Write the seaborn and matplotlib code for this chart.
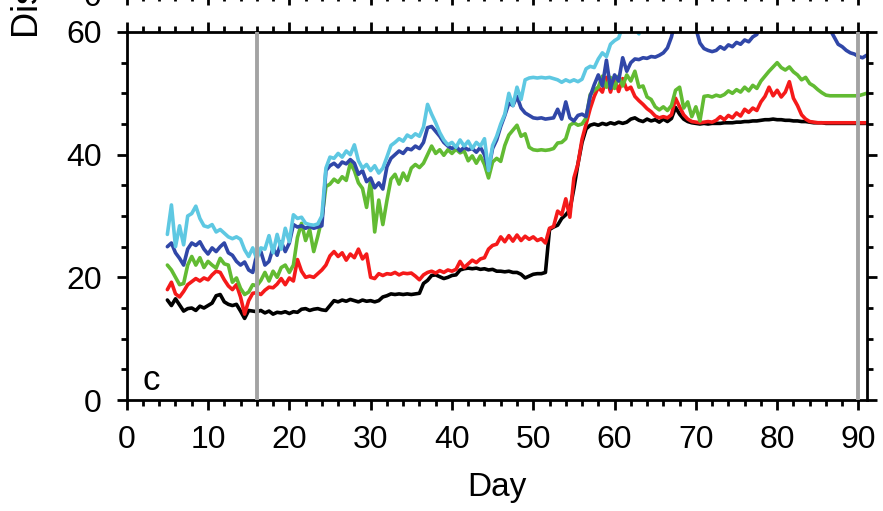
import numpy as np
import pandas as pd
import matplotlib
matplotlib.use("Agg")
import matplotlib.pyplot as plt
from matplotlib.ticker import MultipleLocator
import seaborn as sns

nan = np.nan

# Half-daily samples starting at day 5
black = [
    16.3, 15.4, 16.5, 15.5, 14.5, 14.9, 15.0, 14.6, 15.3, 15.0,
    15.4, 15.8, 17.0, 17.2, 16.0, 15.6, 15.4, 15.6, 14.5, 13.3,
    14.6, 14.5, 14.4, 14.6, 14.2, 14.5, 14.0, 14.3, 14.2, 14.4,
    14.1, 14.4, 14.3, 14.8, 14.9, 14.6, 14.8, 14.9, 14.7, 14.6,
    15.4, 16.2, 16.0, 16.3, 16.1, 16.4, 16.2, 16.0, 16.3, 16.1,
    16.2, 16.0, 16.2, 16.8, 17.0, 17.3, 17.2, 17.3, 17.2, 17.3,
    17.2, 17.3, 17.4, 19.0, 19.5, 20.3, 20.4, 20.1, 19.8, 20.0,
    20.3, 20.4, 21.2, 21.4, 21.5, 21.4, 21.5, 21.3, 21.4, 21.2,
    21.3, 21.0, 21.0, 20.9, 21.0, 20.8, 20.8, 20.5, 19.9, 20.2,
    20.5, 20.6, 20.6, 20.8, 27.8, 28.2, 28.5, 29.6, 30.2, 31.0,
    34.5, 38.5, 42.0, 44.2, 44.8, 45.0, 44.8, 45.1, 44.9, 45.2,
    45.0, 45.3, 45.1, 45.3, 45.8, 46.0, 45.6, 45.4, 45.8, 45.5,
    45.7, 45.3, 45.8, 45.4, 45.9, 47.7, 46.6, 45.8, 45.4, 45.2,
    45.1, 45.0, 45.1, 45.0, 45.1, 45.1, 45.1, 45.2, 45.2, 45.2,
    45.3, 45.3, 45.4, 45.4, 45.5, 45.5, 45.6, 45.7, 45.7, 45.8,
    45.7, 45.7, 45.6, 45.6, 45.5, 45.5, 45.4, 45.4, 45.3, 45.2,
    45.2, 45.2, 45.1, 45.1, 45.1, 45.1, 45.1, 45.1, 45.1, 45.1,
    45.1, 45.1, 45.1,
]
red = [
    18.0, 19.2, 17.3, 16.8, 17.7, 18.8, 19.3, 19.8, 19.4, 19.9,
    19.6, 20.4, 21.0, 20.8, 19.6, 18.6, 18.0, 18.8, 16.8, 14.0,
    16.2, 17.4, 17.5, 17.2, 17.9, 18.4, 18.3, 18.9, 19.8, 18.8,
    19.9, 19.4, 22.9, 21.0, 20.0, 20.2, 20.0, 20.6, 21.2, 22.0,
    23.5, 24.2, 23.4, 24.0, 22.8, 23.8, 23.2, 24.6, 23.0, 23.8,
    20.0, 19.8, 20.6, 20.3, 20.6, 20.5, 20.8, 20.4, 20.7, 20.6,
    20.7, 20.2, 19.6, 20.4, 20.8, 21.0, 20.7, 21.1, 20.8, 21.2,
    21.0, 21.3, 22.6, 21.6, 22.2, 22.8, 22.4, 23.0, 23.2, 24.6,
    25.2, 25.4, 26.6, 25.8, 26.8, 25.9, 26.9, 26.0, 26.7, 26.2,
    26.6, 26.0, 26.3, 25.6, 28.0, 28.3, 30.8, 30.2, 32.8, 29.8,
    36.2, 38.5, 42.5, 45.0, 47.5, 49.5, 51.0, 50.2, 52.6, 50.2,
    52.5, 50.3, 52.4, 50.6, 51.0, 49.5, 48.8, 48.2, 47.5, 47.0,
    46.3, 46.0, 46.2, 46.0, 46.5, 49.2, 47.8, 46.5, 45.8, 45.4,
    45.3, 45.2, 45.3, 45.4, 45.3, 45.6, 46.2, 45.7, 46.4, 46.0,
    46.8, 46.3, 47.4, 46.9, 47.6, 47.2, 48.6, 49.5, 51.0, 49.6,
    50.5, 49.4, 50.2, 51.9, 49.2, 48.0, 46.5, 45.8, 45.4, 45.3,
    45.2, 45.2, 45.2, 45.2, 45.2, 45.2, 45.2, 45.2, 45.2, 45.2,
    45.2, 45.2, 45.2,
]
green = [
    22.0, 21.2, 20.0, 18.8, 19.0, 22.0, 23.4, 22.0, 23.2, 21.6,
    22.6, 22.0, 21.5, 23.1, 22.2, 22.0, 19.2, 19.9, 18.2, 17.2,
    17.6, 18.8, 18.6, 19.5, 20.8, 19.4, 21.0, 20.0, 21.6, 22.0,
    20.8, 22.0, 26.5, 28.8, 26.0, 27.8, 24.2, 26.7, 29.5, 34.8,
    35.2, 36.0, 35.5, 36.4, 35.8, 38.6, 37.4, 35.4, 34.5, 31.4,
    35.8, 27.4, 32.6, 28.6, 32.5, 36.0, 36.8, 35.2, 37.0, 35.8,
    37.8, 38.4, 37.9, 38.6, 40.0, 41.4, 40.2, 40.8, 39.9, 40.8,
    40.2, 40.9, 40.3, 40.6, 39.0, 39.8, 38.6, 39.8, 38.4, 36.2,
    38.8, 39.4, 38.9, 41.5, 43.2, 44.0, 44.8, 43.0, 43.4, 41.2,
    40.8, 40.7, 40.8, 40.7, 40.8, 41.0, 41.9, 42.0, 42.6, 44.8,
    45.2, 44.8, 45.0, 46.0, 49.8, 50.5, 51.0, 52.8, 51.0, 52.6,
    50.8, 52.8, 51.2, 53.0, 52.0, 53.6, 51.0, 51.2, 49.4, 49.0,
    47.8, 47.3, 47.8, 47.2, 48.0, 50.5, 51.0, 47.6, 48.6, 46.2,
    47.8, 45.5, 49.5, 49.6, 49.4, 49.7, 49.5, 49.8, 50.4, 50.0,
    50.6, 50.2, 51.0, 50.4, 51.3, 50.8, 52.0, 52.8, 53.6, 54.3,
    55.0, 54.2, 53.8, 54.3, 53.5, 53.0, 52.2, 52.6, 51.6, 51.2,
    50.6, 50.1, 49.7, 49.6, 49.6, 49.6, 49.6, 49.6, 49.6, 49.6,
    49.6, 49.8, 50.0,
]
blue = [
    25.0, 25.6, 24.0, 23.1, 22.0, 24.6, 25.6, 25.2, 25.8, 24.6,
    23.8, 24.8, 24.2, 25.0, 25.6, 24.0, 23.6, 22.6, 22.0, 22.5,
    21.2, 20.8, 23.8, 24.2, 22.0, 22.6, 24.8, 23.6, 25.8, 24.2,
    25.6, 28.6, 28.2, 28.4, 28.0, 28.3, 28.0, 28.2, 28.4, 37.4,
    38.2, 38.6, 38.0, 38.8, 38.5, 39.2, 38.6, 36.8, 37.4, 35.6,
    36.2, 34.6, 35.4, 34.4, 38.0, 39.4, 40.0, 40.6, 40.2, 41.0,
    40.8, 41.4, 41.0, 42.0, 44.4, 44.6, 43.8, 43.0, 42.0, 41.4,
    41.0, 41.4, 40.6, 41.2, 40.8, 41.0, 40.4, 41.2, 40.0, 37.6,
    41.0, 42.4, 44.6, 46.4, 48.4, 48.0, 49.5, 47.6, 46.8, 46.4,
    46.0, 45.9, 46.0, 45.8, 45.9, 46.0, 47.4, 45.8, 48.6, 46.0,
    45.5, 46.4, 46.6, 46.2, 49.5, 51.4, 53.0, 51.2, 55.4, 50.8,
    53.0, 52.0, 55.8, 53.6, 55.0, 55.6, 55.5, 55.8, 55.7, 56.0,
    55.9, 56.2, 56.6, 57.4, 59.2, 62.0, nan, nan, nan, nan,
    60.6, 58.2, 57.3, 57.0, 56.8, 57.0, 57.6, 57.2, 57.9, 57.6,
    58.3, 58.0, 58.7, 58.4, 59.2, 59.6, 62.0, nan, nan, nan,
    nan, nan, nan, nan, nan, nan, nan, nan, nan, nan,
    nan, 61.5, 61.0, 60.4, 59.2, 58.0, 57.6, 57.0, 56.6, 56.4,
    56.0, 55.8, 56.2,
]
cyan = [
    27.0, 31.8, 25.0, 28.4, 25.3, 30.0, 30.4, 31.6, 29.6, 28.4,
    28.2, 28.6, 27.4, 27.8, 27.2, 26.6, 26.3, 26.6, 26.2, 24.5,
    23.4, 24.8, 23.0, 24.8, 24.6, 26.8, 24.0, 27.0, 24.6, 28.0,
    25.8, 30.2, 29.6, 29.8, 28.8, 28.6, 28.5, 28.7, 30.0, 37.8,
    39.6, 39.4, 40.2, 39.6, 40.6, 40.0, 41.6, 39.0, 37.8, 38.4,
    37.4, 38.2, 37.0, 37.8, 39.6, 41.5, 42.0, 42.6, 42.2, 43.2,
    42.8, 43.4, 43.0, 44.5, 48.2, 46.6, 45.2, 43.6, 42.4, 41.6,
    42.0, 41.2, 42.4, 41.4, 42.2, 41.0, 42.0, 41.4, 42.6, 37.4,
    41.5, 43.0, 45.0, 46.6, 50.0, 48.0, 51.0, 49.0, 52.2, 52.5,
    52.6, 52.5, 52.6, 52.5, 52.6, 52.4, 52.2, 51.8, 52.2, 51.9,
    52.2, 51.9, 52.3, 54.0, 54.4, 54.2, 55.6, 56.6, 56.0, 58.0,
    58.6, 59.0, 61.0, 62.5, 61.5, 60.6, 59.7, 62.0, 64.0,
]

series_names = ["black", "red", "green", "blue", "cyan"]
series_values = [black, red, green, blue, cyan]
series_colors = ["#000000", "#f51a1a", "#62bb33", "#3047a8", "#5ec8e2"]
marker_days = [16, 90]

x_ticks = list(range(0, 100, 10))
y_ticks = [0, 20, 40, 60]

frames = []
for name, vals in zip(series_names, series_values):
    day = 5.0 + 0.5 * np.arange(len(vals))
    frames.append(pd.DataFrame({"day": day, "value": vals, "series": name}))
df = pd.concat(frames, ignore_index=True)

sns.set_style("ticks")
plt.rcParams["font.family"] = ["Liberation Sans", "DejaVu Sans"]
plt.rcParams["text.color"] = "black"
plt.rcParams["axes.labelcolor"] = "black"
plt.rcParams["xtick.color"] = "black"
plt.rcParams["ytick.color"] = "black"
plt.rcParams["xtick.labelcolor"] = "black"
plt.rcParams["ytick.labelcolor"] = "black"
plt.rcParams["axes.edgecolor"] = "black"
plt.rcParams["axes.linewidth"] = 2.0

fig = plt.figure(figsize=(8.83, 5.11), dpi=100)
ax = fig.add_axes([0.1435, 0.2172, 0.8384, 0.7202])

sns.lineplot(
    data=df, x="day", y="value", hue="series",
    hue_order=series_names, palette=dict(zip(series_names, series_colors)),
    estimator=None, legend=False, linewidth=2.6, ax=ax,
)

for d in marker_days:
    ax.axvline(d, color="#a3a3a3", linewidth=2.8, zorder=5)

ax.set_xlim(0, 91.05)
ax.set_ylim(0, 60)
ax.set_xticks(x_ticks)
ax.set_yticks(y_ticks)
ax.xaxis.set_minor_locator(MultipleLocator(2))
ax.yaxis.set_minor_locator(MultipleLocator(5))
for s in ax.spines.values():
    s.set_visible(True)
    s.set_linewidth(2.0)
ax.tick_params(which="both", direction="out", top=True, right=True,
               labeltop=False, labelright=False, width=2.0)
ax.tick_params(which="major", length=7, labelsize=23, pad=11)
ax.tick_params(which="minor", length=4.5)
ax.set_xlabel("Day", fontsize=24, labelpad=12)
ax.set_ylabel("")
ax.text(0.021, 0.026, "c", transform=ax.transAxes, fontsize=25,
        ha="left", va="baseline")

# Bottom edge of the panel above
ax_up = fig.add_axes([0.1435, 1.0098, 0.8384, 0.72])
ax_up.set_xlim(0, 91.05)
ax_up.set_ylim(0, 60)
ax_up.set_xticks(x_ticks)
ax_up.set_yticks(y_ticks)
ax_up.xaxis.set_minor_locator(MultipleLocator(2))
ax_up.yaxis.set_minor_locator(MultipleLocator(5))
for s in ax_up.spines.values():
    s.set_visible(True)
    s.set_linewidth(2.0)
ax_up.tick_params(which="both", direction="out", top=True, right=True,
                  labelbottom=False, labeltop=False, labelright=False,
                  width=2.0)
ax_up.tick_params(which="major", length=7, labelsize=23, pad=11)
ax_up.tick_params(which="minor", length=4.5)
fig.text(29 / 883, 1 - 38 / 511, "Distance (km)", rotation=90,
         fontsize=26, ha="center", va="bottom")

fig.savefig("out.png", dpi=100)
